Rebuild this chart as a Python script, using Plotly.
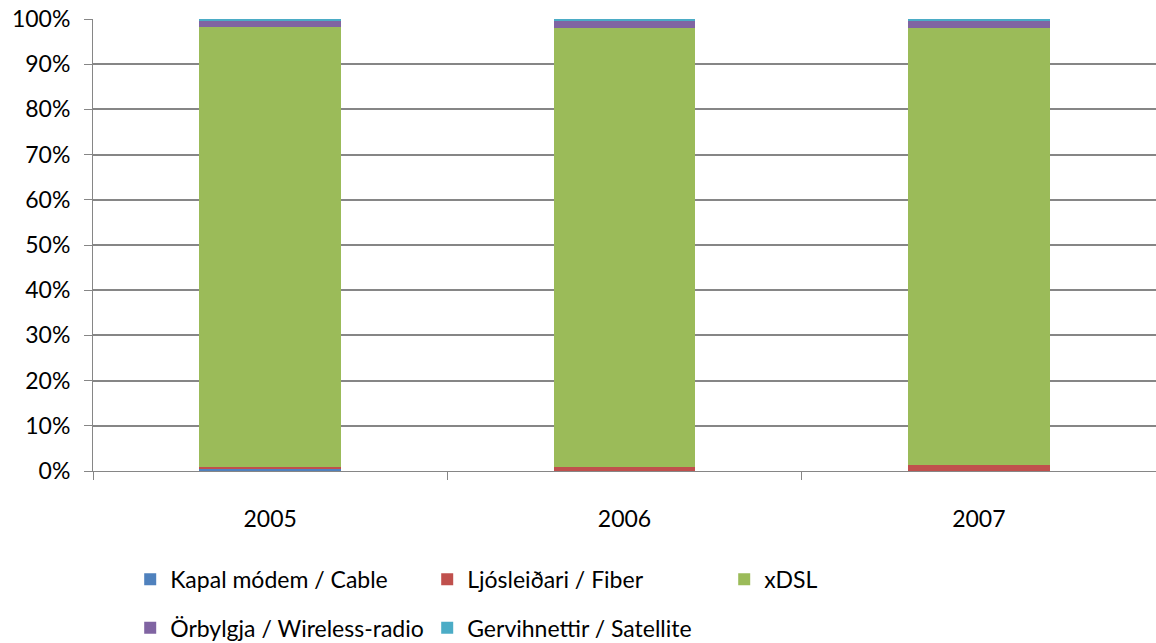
import plotly.graph_objects as go

years = ["2005", "2006", "2007"]
cable = [0.5, 0.1, 0.1]
fiber = [0.3, 0.8, 1.3]
xdsl = [97.5, 97.2, 96.7]
wireless = [1.2, 1.5, 1.5]
satellite = [0.5, 0.4, 0.4]

names = ["Kapal módem / Cable", "Ljósleiðari / Fiber", "xDSL",
         "Örbylgja / Wireless-radio", "Gervihnettir / Satellite"]
series = [cable, fiber, xdsl, wireless, satellite]
colors = ["#4F81BD", "#C0504D", "#9BBB59", "#8064A2", "#4BACC6"]
legends = ["legend", "legend", "legend", "legend2", "legend2"]

FONT = "Lato"
FS = 23
fig = go.Figure()
for n, s, c, lg in zip(names, series, colors, legends):
    fig.add_trace(go.Bar(x=years, y=s, name=n, marker=dict(color=c, line=dict(width=0)),
                         legend=lg))

legend_common = dict(orientation="h", x=0.035, xanchor="left", yanchor="middle",
                     font=dict(family=FONT, size=FS, color="black"),
                     entrywidth=252, entrywidthmode="pixels", traceorder="normal",
                     bgcolor="rgba(0,0,0,0)")
fig.update_layout(
    barmode="stack",
    barnorm="percent",
    bargap=0.6,
    width=1156, height=643,
    margin=dict(l=93, r=0, t=19, b=172, autoexpand=False),
    plot_bgcolor="white", paper_bgcolor="white",
    font=dict(family=FONT, size=FS, color="black"),
    legend=dict(y=-0.2395, **legend_common),
    legend2=dict(y=-0.347, **legend_common),
    xaxis=dict(tickson="boundaries", ticks="outside", ticklen=8, tickcolor="#868686",
               showline=True, linecolor="#868686", linewidth=1, automargin=False,
               ticklabelstandoff=27, tickfont=dict(family=FONT, size=FS, color="black")),
    yaxis=dict(range=[0, 100], dtick=10, ticksuffix="%", showgrid=True,
               gridcolor="#868686", gridwidth=1.5, zeroline=False,
               showline=True, linecolor="#868686", linewidth=1,
               ticks="outside", ticklen=8, tickcolor="#868686", automargin=False,
               ticklabelstandoff=9, tickfont=dict(family=FONT, size=FS, color="black")),
)
fig.write_html("out.html", config={"displayModeBar": False},
               post_script="document.body.style.margin='0';document.body.style.overflow='hidden';")
